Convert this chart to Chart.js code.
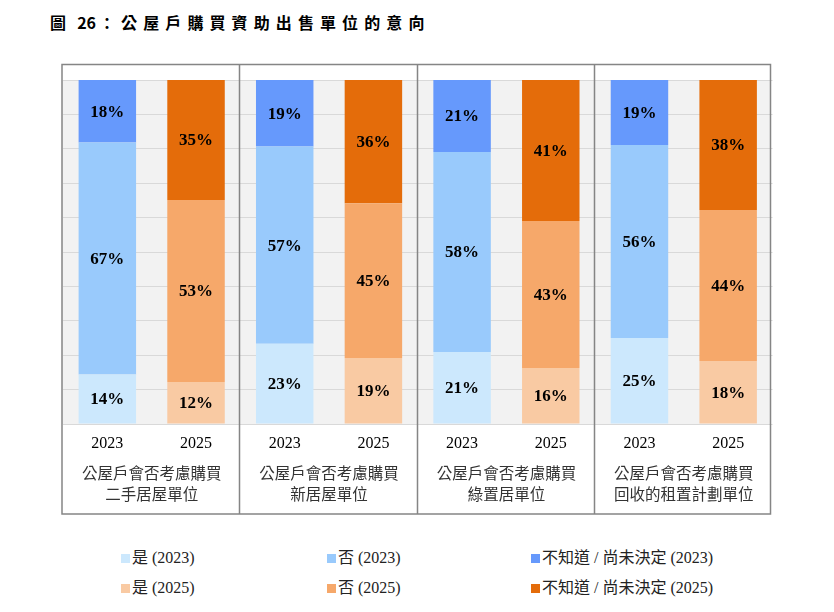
<!DOCTYPE html>
<html><head><meta charset="utf-8">
<script src="https://cdn.jsdelivr.net/npm/chart.js@4"></script>
<style>
html,body{margin:0;padding:0;background:#fff;width:834px;height:612px;overflow:hidden;}
#title{position:absolute;left:50px;top:12px;font-family:"Noto Sans CJK TC",sans-serif;font-weight:700;font-size:16px;color:#000;white-space:nowrap;line-height:20px;}
#wrap{position:absolute;left:0;top:0;width:834px;height:540px;}
.li{position:absolute;font-family:"Liberation Serif","Noto Sans CJK TC",serif;font-size:16px;color:#222;white-space:nowrap;line-height:20px;}
.sw{display:inline-block;width:9px;height:9px;margin-right:2px;vertical-align:0px;}
</style></head>
<body>
<div id="title"><span style="letter-spacing:4px">圖</span><span style="letter-spacing:3.5px"> </span><span>2</span><span style="letter-spacing:3px">6</span><span style="letter-spacing:6px">：</span><span style="letter-spacing:6.1px">公屋戶購買資助出售單位的意向</span></div>
<div id="wrap"><canvas id="c" width="834" height="540"></canvas></div>
<div id="legend"></div>
<script>
const categories = ['2023','2025','2023','2025','2023','2025','2023','2025'];
const groupLabels = [
  ['公屋戶會否考慮購買','二手居屋單位'],
  ['公屋戶會否考慮購買','新居屋單位'],
  ['公屋戶會否考慮購買','綠置居單位'],
  ['公屋戶會否考慮購買','回收的租置計劃單位']
];
const seriesNames = ['是 (2023)','否 (2023)','不知道 / 尚未決定 (2023)','是 (2025)','否 (2025)','不知道 / 尚未決定 (2025)'];
const yes2023 = [14.4, 23.3, 20.9, 25.0];
const no2023  = [67.4, 57.4, 58.2, 56.1];
const dk2023  = [18.2, 19.3, 20.9, 18.9];
const yes2025 = [12.2, 19.2, 16.3, 18.3];
const no2025  = [52.9, 45.0, 42.7, 43.9];
const dk2025  = [34.9, 35.8, 41.0, 37.8];
const colors = ['#cce8fd','#99cafc','#6699fc','#f9caa3','#f6a86a','#e46c0a'];

function spread(arr, slot){ const out=[]; arr.forEach(v=>{ if(slot===0){out.push(v,null);} else {out.push(null,v);} }); return out; }
const seriesData = [spread(yes2023,0),spread(no2023,0),spread(dk2023,0),spread(yes2025,1),spread(no2025,1),spread(dk2025,1)];

const bgPlugin = {
  id:'panels',
  beforeDraw(chart){
    const {ctx, chartArea:a} = chart;
    ctx.save(); ctx.fillStyle='#f2f2f2'; ctx.fillRect(a.left-1,a.top,a.width-1.5,a.height); ctx.restore();
  },
  afterDraw(chart){
    const {ctx, chartArea:a} = chart;
    const xs = chart.scales.x;
    const top = a.top - 15.5, bottom = chart.scales.x2.bottom;
    const L = a.left-1, R = a.right-2;
    ctx.save();
    ctx.strokeStyle='#858585'; ctx.lineWidth=1.5;
    ctx.strokeRect(L, top, R-L, bottom-top);
    for(let i=1;i<groupLabels.length;i++){
      const x = Math.round((xs.getPixelForValue(2*i-1)+xs.getPixelForValue(2*i))/2)-0.5;
      ctx.beginPath(); ctx.moveTo(x, top); ctx.lineTo(x, bottom); ctx.stroke();
    }
    ctx.restore();
  },
  afterDatasetsDraw(chart){
    const ctx = chart.ctx;
    ctx.save();
    ctx.font = 'bold 17px "Liberation Serif", serif';
    ctx.fillStyle = '#000'; ctx.textAlign='center'; ctx.textBaseline='middle';
    chart.data.datasets.forEach((ds,di)=>{
      const meta = chart.getDatasetMeta(di);
      meta.data.forEach((el,i)=>{
        const v = ds.data[i];
        if(v===null || v===undefined) return;
        ctx.fillText(Math.round(v)+'%', el.x, (el.y+el.base)/2+1);
      });
    });
    ctx.restore();
  }
};

const chart = new Chart(document.getElementById('c'), {
  type:'bar',
  data:{
    labels: categories,
    datasets: seriesNames.map((n,i)=>({label:n, data:seriesData[i], backgroundColor:colors[i], borderWidth:0, stack:'s', barPercentage:0.648, categoryPercentage:1}))
  },
  options:{
    responsive:false, animation:false,
    layout:{padding:{left:63,right:61.5,top:80,bottom:26}},
    plugins:{legend:{display:false}, tooltip:{enabled:false}},
    scales:{
      x:{stacked:true, weight:1, grid:{display:false,drawTicks:false}, border:{display:false},
         ticks:{color:'#000',padding:10,font:{family:'"Liberation Serif", serif',size:16}, maxRotation:0},
         afterFit(s){ s.height = 30; }},
      x2:{type:'category', position:'bottom', weight:2, labels:groupLabels, offset:true,
          grid:{display:false,drawTicks:false}, border:{display:false},
          ticks:{color:'#333',padding:9,font:{family:'"Noto Sans CJK TC", sans-serif',size:15.5,lineHeight:1.35}, maxRotation:0, autoSkip:false},
          afterFit(s){ s.height = 60; }},
      y:{stacked:true, min:0, max:100, ticks:{display:false, stepSize:10}, border:{display:false},
         grid:{color:'#d9d9d9', lineWidth:1, drawTicks:false},
         afterFit(s){ s.width = 0; }}
    }
  },
  plugins:[bgPlugin]
});

const legend = document.getElementById('legend');
const colX = [121, 327, 531], rowY = [558, 588];
chart.data.datasets.forEach((ds,i)=>{
  const d = document.createElement('div');
  d.className='li';
  d.style.left = colX[i%3]+'px';
  d.style.top = (rowY[Math.floor(i/3)]-10)+'px';
  d.innerHTML = '<span class="sw" style="background:'+ds.backgroundColor+'"></span>'+ds.label;
  legend.appendChild(d);
});
</script>
</body></html>
